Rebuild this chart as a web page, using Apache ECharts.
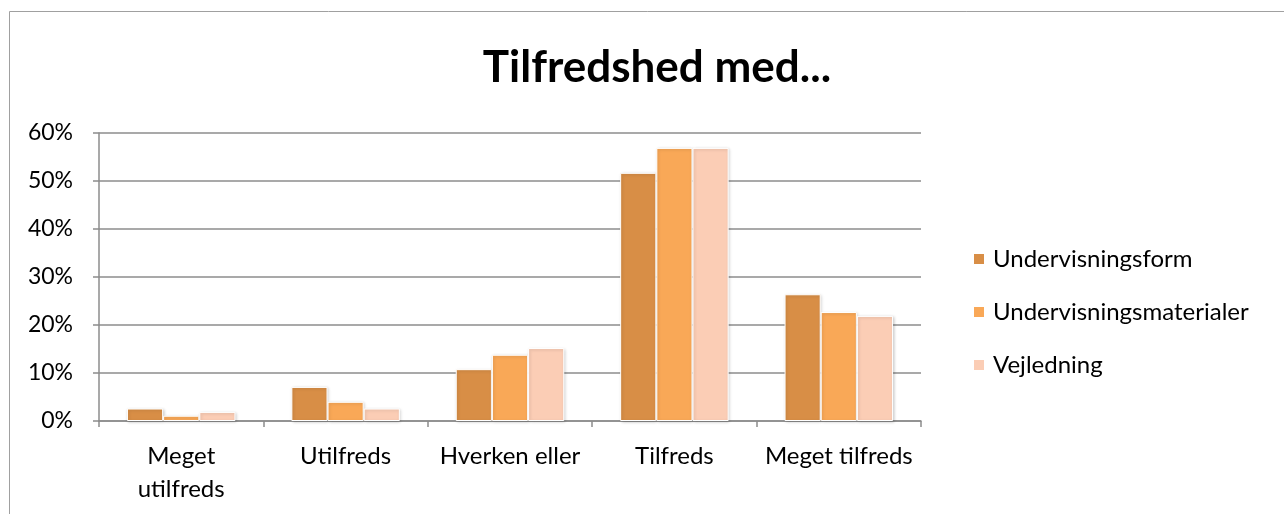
<!DOCTYPE html>
<html>
<head>
<meta charset="utf-8">
<script src="https://cdn.jsdelivr.net/npm/echarts@6/dist/echarts.min.js"></script>
<style>
html,body{margin:0;padding:0;background:#fff;}
#c{width:1284px;height:514px;}
</style>
</head>
<body>
<div id="c"></div>
<script>
var categories = ['Meget\nutilfreds', 'Utilfreds', 'Hverken eller', 'Tilfreds', 'Meget tilfreds'];
var seriesNames = ['Undervisningsform', 'Undervisningsmaterialer', 'Vejledning'];
var undervisningsform = [2.6, 7.1, 10.8, 51.7, 26.4];
var undervisningsmaterialer = [1.1, 4.0, 13.8, 56.9, 22.7];
var vejledning = [1.9, 2.6, 15.2, 56.9, 21.9];
var yTicks = [0, 10, 20, 30, 40, 50, 60];
var colors = ['#D88E46', '#F9A857', '#FBCDB5'];

var font = 'Lato';
var chart = echarts.init(document.getElementById('c'));
var dataSets = [undervisningsform, undervisningsmaterialer, vejledning];
var series = dataSets.map(function (d, i) {
  return {
    name: seriesNames[i],
    type: 'bar',
    data: d,
    barGap: '0%',
    barCategoryGap: '34%',
    itemStyle: {
      color: colors[i],
      borderColor: '#ffffff',
      borderWidth: 1,
      shadowColor: 'rgba(0,0,0,0.18)',
      shadowBlur: 3,
      shadowOffsetX: 1,
      shadowOffsetY: 1
    }
  };
});
chart.setOption({
  animation: false,
  backgroundColor: '#fff',
  textStyle: { fontFamily: font },
  graphic: [{
    type: 'rect',
    shape: { x: 9.5, y: 11.5, width: 1300, height: 600 },
    style: { fill: 'none', stroke: '#A0A0A0', lineWidth: 1 },
    silent: true
  }],
  title: {
    text: 'Tilfredshed med...',
    left: 652,
    textAlign: 'center',
    top: 41,
    textStyle: { fontFamily: font, fontWeight: 'bold', fontSize: 44, color: '#000' }
  },
  legend: {
    orient: 'vertical',
    left: 967,
    top: 242,
    itemWidth: 12,
    itemHeight: 12,
    itemGap: 29,
    icon: 'rect',
    textStyle: { fontFamily: font, fontSize: 24, lineHeight: 24, color: '#000', padding: [0, 0, 0, 3] },
    data: seriesNames
  },
  grid: { left: 99, top: 133, width: 822, height: 288, containLabel: false },
  xAxis: {
    type: 'category',
    data: categories,
    axisLine: { lineStyle: { color: '#8C8C8C', width: 1.5 } },
    axisTick: { show: true, length: 6, lineStyle: { color: '#8C8C8C', width: 1.5 } },
    axisLabel: { fontFamily: font, fontSize: 24, color: '#000', margin: 19, lineHeight: 33, interval: 0 }
  },
  yAxis: {
    type: 'value',
    min: 0, max: 60, interval: 10,
    axisLine: { show: true, lineStyle: { color: '#8C8C8C', width: 1.5 } },
    axisTick: { show: true, length: 6, lineStyle: { color: '#8C8C8C', width: 1.5 } },
    splitLine: { lineStyle: { color: '#8C8C8C', width: 1.5 } },
    axisLabel: {
      fontFamily: font, fontSize: 23, color: '#000', margin: 26,
      formatter: function (v) { return yTicks.indexOf(v) >= 0 ? v + '%' : ''; }
    }
  },
  series: series
});
</script>
</body>
</html>
